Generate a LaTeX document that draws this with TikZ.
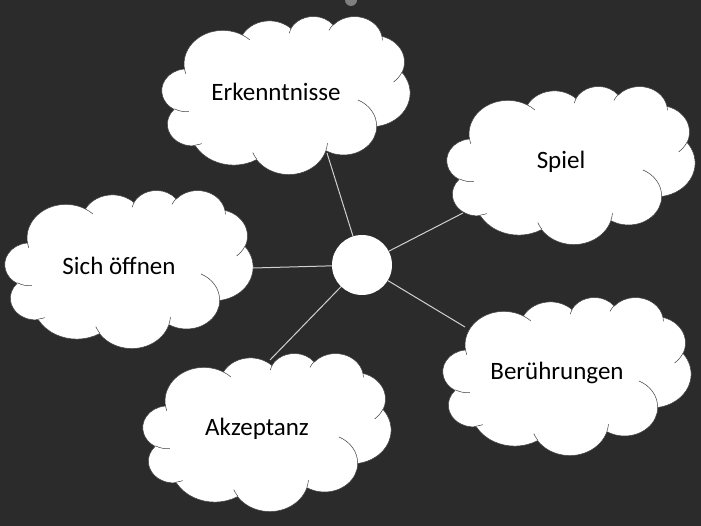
\documentclass[tikz,border=0pt]{standalone}
\usepackage{fontspec}
\setmainfont{Carlito}
\usepackage{tikz}

\definecolor{grund}{HTML}{2B2B2B}
\definecolor{strich}{HTML}{D0D0D0}
\tikzset{
	rand/.style={draw=black!75, line width=0.5pt},
	schrift/.style={font=\fontsize{25}{30}\selectfont, text=black},
	kreis/.style={circle, fill=white, minimum size=60pt, inner sep=0pt},
	link/.style={draw=strich, line width=1pt},
	% Wolke im 432er Raster, 248 x 158 gross
	wolke/.pic={
		\begin{scope}[x=0.57407pt, y=-0.36574pt]
			\filldraw[rand, fill=white] (39.00,143.70)
			arc[start angle=-187.745, end angle=-59.64, x radius=67.53, y radius=91.90]
			arc[start angle=-152.05, end angle=-45.47, x radius=53.33, y radius=72.67]
			arc[start angle=-153.48, end angle=-37.33, x radius=43.65, y radius=59.45]
			arc[start angle=-139.70, end angle=-10.21, x radius=48.57, y radius=65.95]
			arc[start angle=-74.77, end angle=23.21, x radius=53.33, y radius=72.73]
			arc[start angle=-37.51, end angle=81.87, x radius=67.75, y radius=92.20]
			arc[start angle=0.46, end angle=121.99, x radius=57.85, y radius=78.67]
			arc[start angle=16.85, end angle=146.21, x radius=67.52, y radius=92.15]
			arc[start angle=58.98, end angle=150.19, x radius=77.20, y radius=105.43]
			arc[start angle=83.30, end angle=223.11, x radius=43.60, y radius=59.18]
			arc[start angle=120.35, end angle=264.11, x radius=43.45, y radius=59.45]
			-- cycle;
			\draw[rand] (46.93,261.77) arc[start angle=85.55, end angle=120.35, x radius=43.45, y radius=59.45];
			\draw[rand] (69.28,348.99) arc[start angle=68.23, end angle=83.30, x radius=43.60, y radius=59.18];
			\draw[rand] (164.78,390.90) arc[start angle=146.21, end angle=158.47, x radius=67.52, y radius=92.15];
			\draw[rand] (288.27,347.51) arc[start angle=4.74, end angle=16.85, x radius=67.52, y radius=92.15];
			\draw[rand] (341.29,229.54) arc[start angle=-64.03, end angle=0.46, x radius=57.85, y radius=78.67];
			\draw[rand] (417.98,153.54) arc[start angle=23.21, end angle=49.64, x radius=53.33, y radius=72.73];
			\draw[rand] (383.24,54.26) arc[start angle=-10.21, end angle=0.82, x radius=48.57, y radius=65.95];
			\draw[rand] (290.78,39.52) arc[start angle=-156.29, end angle=-139.70, x radius=48.57, y radius=65.95];
			\draw[rand] (221.41,47.20) arc[start angle=-167.73, end angle=-153.48, x radius=43.65, y radius=59.45];
			\draw[rand] (140.00,51.92) arc[start angle=-59.64, end angle=-45.75, x radius=67.53, y radius=91.90];
			\draw[rand] (41.27,157.89) arc[start angle=163.20, end angle=172.255, x radius=67.53, y radius=91.90];
			\node[schrift] (-text) at (198.6,207.8) {#1};
		\end{scope}
	}
}

\begin{document}
\begin{tikzpicture}[x=1pt,y=-1pt]
		\useasboundingbox (0,0) rectangle (701,526);
		\fill[grund] (0,0) rectangle (701,526);
		\fill[black!50] (357,0) arc[start angle=0, end angle=180, radius=6] -- cycle;
		\pic (erk) at (162,16) {wolke=Erkenntnisse};
		\pic (spi) at (447,86) {wolke=Spiel};
		\pic (sic) at (5,190) {wolke=Sich öffnen};
		\pic (akz) at (143,353) {wolke=Akzeptanz};
		\pic (ber) at (443,297) {wolke=Berührungen};
		\node[kreis] (m) at (362,265) {};
		\coordinate (e-erk) at (327,153);
		\coordinate (e-spi) at (463,213);
		\coordinate (e-sic) at (253,268);
		\coordinate (e-akz) at (270,360);
		\coordinate (e-ber) at (465,327);
		\path[link]
		(m) edge (e-erk)
		(m) edge (e-spi)
		(m) edge (e-sic)
		(m) edge (e-akz)
		(m) edge (e-ber);
	\end{tikzpicture}
\end{document}
